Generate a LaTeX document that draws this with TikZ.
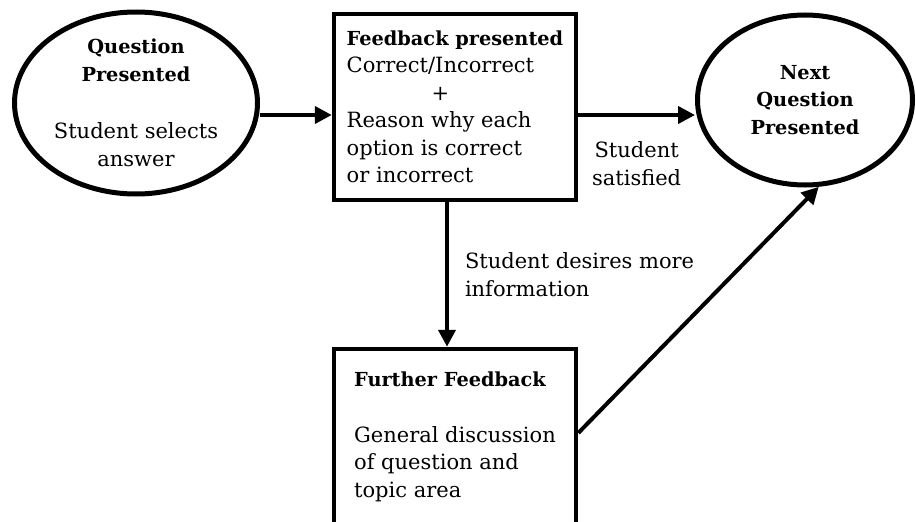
\documentclass[tikz,border=0pt]{standalone}
\usepackage{fontspec}
\setmainfont{DejaVu Serif}[BoldFeatures={Scale=0.92}]
\usepackage{calc}
\usetikzlibrary{arrows.meta,shapes.geometric,positioning}

\begin{document}
\begin{tikzpicture}[x=1pt, y=-1pt,
	font=\fontsize{21}{27.5}\selectfont,
	oval/.style={ellipse, draw, line width=5pt, align=center, inner sep=0pt},
	panel/.style={rectangle, draw, line width=4.5pt, align=left, minimum width=242pt},
	flow/.style={line width=4pt, -{Triangle[length=17pt, width=17pt]}},
	tag/.style={inner sep=2pt}]
	\useasboundingbox (0,0) rectangle (916,522);
	\node[oval, minimum width=243pt, minimum height=182pt] (question) at (136,103) {\textbf{Question}\\\textbf{Presented}\\[30pt]Student selects\\answer};
	\node[oval, minimum width=215pt, minimum height=170pt] (next) at (805,100) {\textbf{Next}\\\textbf{Question}\\\textbf{Presented}};
	\node[panel, minimum height=186pt] (feedback) at (455,107) {\textbf{Feedback presented}\\Correct/Incorrect\\\makebox[\widthof{Correct/Incorrect}]{+}\\Reason why each\\option is correct\\or incorrect};
	\node[panel, minimum height=176pt] (further) at (455,437) {\textbf{Further Feedback}\\[28pt]General discussion\\of question and\\topic area};
	\draw[flow] ([yshift=-12pt]question.east) -- ([yshift=-12pt]question.east -| feedback.west);
	\draw[flow] ([yshift=-8pt]feedback.east) -- ([yshift=-8pt]feedback.east -| next.west) node[tag, midway, below=23pt, align=center] {Student\\satisfied};
	\draw[flow] ([xshift=-8pt]feedback.south) -- ([xshift=-8pt]further.north) node[tag, midway, right=14pt, align=left] {Student desires more\\information};
	\draw[flow] ([yshift=4pt]further.east) -- (next.279);
\end{tikzpicture}
\end{document}
